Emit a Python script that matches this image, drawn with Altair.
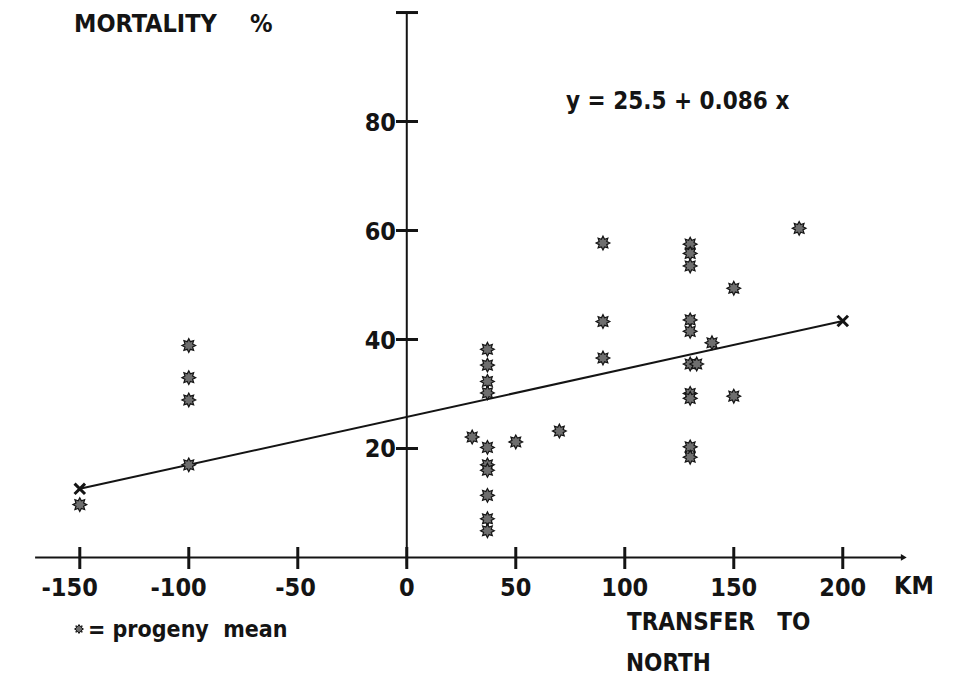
import altair as alt
import pandas as pd
import math

# ---- data ----
transfer_km = [-150,
               -100, -100, -100, -100,
               30,
               37, 37, 37, 37, 37, 37, 37, 37, 37, 37,
               50, 70,
               90, 90, 90,
               130, 130, 130, 130, 130, 130, 133, 130, 130, 130, 130,
               140, 150, 150, 180]
mortality = [9.7,
             38.9, 33.0, 28.9, 17.0,
             22.1,
             38.2, 35.3, 32.3, 30.2, 20.2, 17.0, 16.0, 11.4, 7.1, 4.9,
             21.2, 23.2,
             57.7, 43.3, 36.6,
             57.5, 55.8, 53.5, 43.6, 41.5, 35.5, 35.5, 30.1, 29.2, 20.3, 18.4,
             39.4, 49.4, 29.6, 60.4]

fit_x = [-150, 200]
fit_y = [12.6, 43.4]

x_ticks = [-150, -100, -50, 0, 50, 100, 150, 200]
x_tick_labels = ["-150", "-100", "-50", "0", "50", "100", "150", "200"]
y_ticks = [20, 40, 60, 80, 100]
y_tick_labels = ["20", "40", "60", "80", ""]

W, H = 957, 679
X_DOMAIN = [-186.6, 252.4]
Y_DOMAIN = [-22.3, 102.3]
FONT = "Liberation Sans Narrow, DejaVu Sans Condensed, sans-serif"
INK = "#141414"
FS = 25
NB = "\u00a0"

xs = alt.Scale(domain=X_DOMAIN, range=[0, W], nice=False, zero=False)
ys = alt.Scale(domain=Y_DOMAIN, range=[H, 0], nice=False, zero=False)

pts = pd.DataFrame({"x": transfer_km, "y": mortality})
fit = pd.DataFrame({"x": fit_x, "y": fit_y})
xt = pd.DataFrame({"x": x_ticks, "label": x_tick_labels})
yt = pd.DataFrame({"y": y_ticks, "label": y_tick_labels})
xaxis = pd.DataFrame({"x": [-170.5], "x2": [228.0], "y": [0]})
yaxis = pd.DataFrame({"x": [0], "y": [-1.5], "y2": [100]})

# 8-pointed star path (marker shape)
star_pts = []
for i in range(16):
    r = 1.0 if i % 2 == 0 else 0.6
    a = math.pi * i / 8
    star_pts.append(f"{r*math.cos(a):.3f},{r*math.sin(a):.3f}")
STAR = "M" + "L".join(star_pts) + "Z"
XMARK = "M-1,-1L1,1M-1,1L1,-1"

X = lambda: alt.X("x:Q", scale=xs, axis=None)
Y = lambda: alt.Y("y:Q", scale=ys, axis=None)

x_axis_line = alt.Chart(xaxis).mark_rule(color=INK, strokeWidth=2).encode(
    x=X(), x2="x2:Q", y=Y())
arrow = alt.Chart(pd.DataFrame({"x": [228.0], "y": [0]})).mark_point(
    shape="triangle-right", filled=True, color=INK, size=45, opacity=1).encode(x=X(), y=Y())
y_axis_line = alt.Chart(yaxis).mark_rule(color=INK, strokeWidth=2).encode(
    x=X(), y=Y(), y2="y2:Q")

x_tick_marks = alt.Chart(xt).mark_rule(color=INK, strokeWidth=3).encode(
    x=X(), y=alt.value(547), y2=alt.value(569))
y_tick_marks = alt.Chart(yt).mark_rule(color=INK, strokeWidth=3).encode(
    y=Y(), x=alt.value(396), x2=alt.value(418))

neg_labels = alt.Chart(xt[xt["x"] < 0]).mark_text(
    font=FONT, fontSize=FS, fontWeight="bold", color=INK, align="right",
    baseline="middle", dx=18).encode(x=X(), y=alt.value(588), text="label:N")
pos_labels = alt.Chart(xt[xt["x"] >= 0]).mark_text(
    font=FONT, fontSize=FS, fontWeight="bold", color=INK, align="center",
    baseline="middle").encode(x=X(), y=alt.value(588), text="label:N")
y_labels = alt.Chart(yt).mark_text(
    font=FONT, fontSize=FS, fontWeight="bold", color=INK, align="right",
    baseline="middle", dy=1).encode(y=Y(), x=alt.value(396), text="label:N")

fit_line = alt.Chart(fit).mark_line(color=INK, strokeWidth=2).encode(x=X(), y=Y())
fit_ends = alt.Chart(fit).mark_point(shape=XMARK, size=110, color=INK,
                                     strokeWidth=3, opacity=1).encode(x=X(), y=Y())

stars = alt.Chart(pts).mark_point(shape=STAR, size=190, filled=True, fill="#6e6e6e",
                                  stroke=INK, strokeWidth=1.2, opacity=1).encode(x=X(), y=Y())

def label(text, x, y, align="left", size=FS):
    return alt.Chart(pd.DataFrame({"t": [text]})).mark_text(
        font=FONT, fontSize=size, fontWeight="bold", color=INK, align=align,
        baseline="middle").encode(x=alt.value(x), y=alt.value(y), text="t:N")

texts = [
    label("MORTALITY", 74, 24),
    label("%", 250, 24),
    label("y = 25.5 + 0.086 x", 566, 102, size=24),
    label("KM", 894, 586),
    label("TRANSFER" + NB * 3 + "TO", 627, 623, size=24),
    label("NORTH", 626, 664, size=24),
    label("=" + NB + "progeny" + NB * 2 + "mean", 88, 630, size=23),
]
legend_star = alt.Chart(pd.DataFrame({"t": [1]})).mark_point(
    shape=STAR, size=80, filled=True, fill="#6e6e6e", stroke=INK, strokeWidth=1,
    opacity=1).encode(x=alt.value(79), y=alt.value(629))

chart = alt.layer(
    x_axis_line, arrow, y_axis_line, x_tick_marks, y_tick_marks,
    neg_labels, pos_labels, y_labels, fit_line, fit_ends, stars, legend_star, *texts
).properties(
    width=W, height=H, padding=0, autosize=alt.AutoSizeParams(type="none"),
    background="white"
).configure_view(stroke=None)

chart.save("out.html", embed_options={"renderer": "svg", "actions": False})
